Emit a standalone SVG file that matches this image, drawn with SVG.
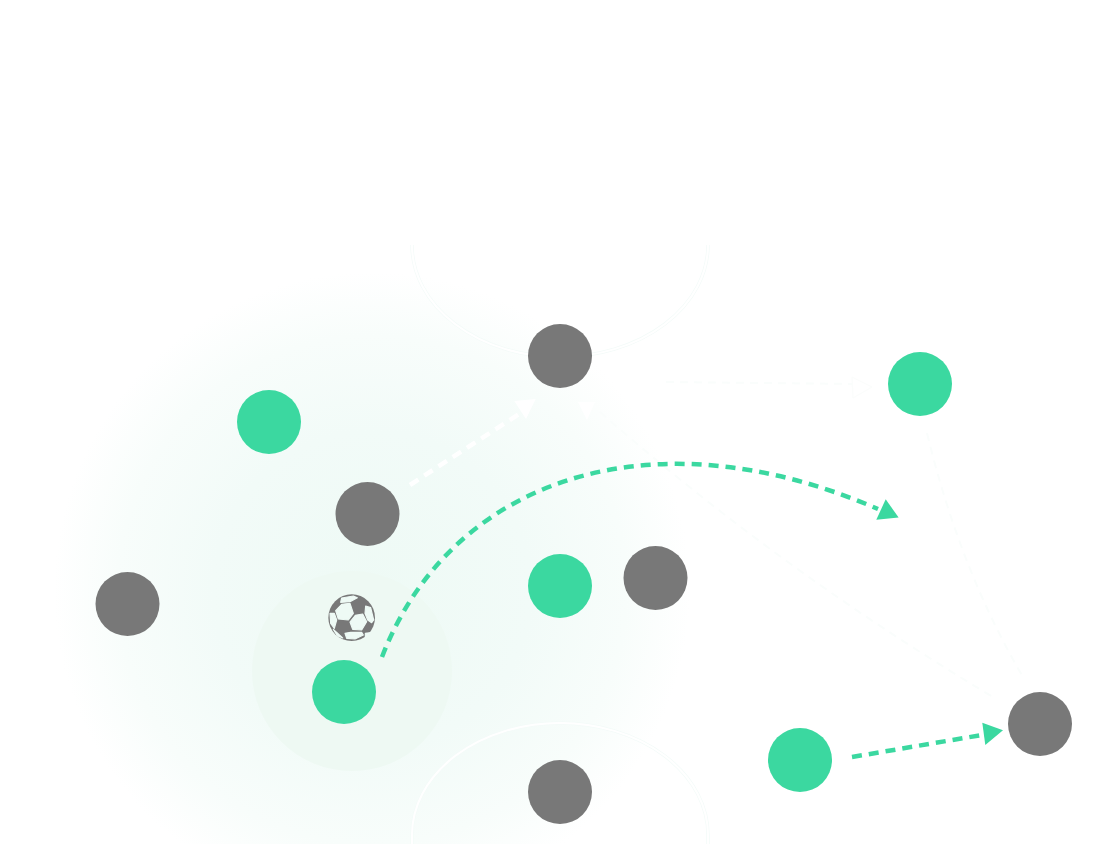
<svg xmlns="http://www.w3.org/2000/svg" width="1120" height="844" viewBox="0 0 1120 844">
<defs>
<radialGradient id="glow" gradientUnits="userSpaceOnUse" cx="372" cy="590" r="318">
<stop offset="0" stop-color="#eefaf5"/>
<stop offset="0.5" stop-color="#f2fbf8"/>
<stop offset="0.8" stop-color="#f8fdfb"/>
<stop offset="1" stop-color="#ffffff"/>
</radialGradient>
</defs>
<style>
.g{fill:#3bd8a0}.k{fill:#787878}
.dash{fill:none;stroke-width:4.5;stroke-dasharray:10 7}
.gs{stroke:#3bd8a0}.ws{stroke:#fff}
.faint{fill:none;stroke:#fafdfc;stroke-width:2;stroke-dasharray:8 6}
.arcw{fill:none;stroke:#fff;stroke-width:2}
.arcf{fill:none;stroke:#f4fbf9;stroke-width:3.5}
.panel{fill:#eefaf5;stroke:#eefaf5;stroke-width:3.5;stroke-linejoin:round}
</style>
<rect width="1120" height="844" fill="#fff"/>
<rect x="40" y="265" width="660" height="579" fill="url(#glow)"/>
<circle cx="352" cy="671" r="100" fill="#eef9f3"/>
<g id="field">
<path class="arcf" d="M412 245A148 112 0 0 0 708 245"/>
<path class="arcw" d="M412 245A148 112 0 0 0 708 245"/>
<path class="arcf" d="M412 844V835A148 112 0 0 1 708 835V844"/>
<path class="arcw" d="M412 844V835A148 112 0 0 1 708 835V844"/>
</g>
<g id="connectors">
<path class="faint" d="M666 382L856 384"/>
<polygon points="852,377 872,387 853,398" fill="#fff" stroke="#fbfdfc"/>
<path class="faint" d="M600 412Q780 570 993 697"/>
<polygon points="578,402 595,402 587,420" fill="#fff"/>
<path class="faint" d="M927 433Q960 570 1023 677"/>
<path class="dash ws" d="M410 485L522 412"/>
<polygon points="514.3,401 535.7,399 526,419" fill="#fff"/>
<path class="dash gs" d="M382 657C450 480 650 410 878 509"/>
<polygon class="g" points="885.7,499.3 898.6,517.5 876.3,519.7"/>
<path class="dash gs" d="M852 757L982 735"/>
<polygon class="g" points="982.3,722.7 1003,730.3 985.3,745"/>
</g>
<g id="player-g1"><circle class="g" cx="269" cy="422" r="32"/></g>
<g id="player-g2"><circle class="g" cx="344" cy="692" r="32"/></g>
<g id="player-g3"><circle class="g" cx="560" cy="586" r="32"/></g>
<g id="player-g4"><circle class="g" cx="920" cy="384" r="32"/></g>
<g id="player-g5"><circle class="g" cx="800" cy="760" r="32"/></g>
<g id="player-k1"><circle class="k" cx="560" cy="356" r="32"/></g>
<g id="player-k2"><circle class="k" cx="367.5" cy="514" r="32"/></g>
<g id="player-k3"><circle class="k" cx="127.5" cy="604" r="32"/></g>
<g id="player-k4"><circle class="k" cx="655.5" cy="578" r="32"/></g>
<g id="player-k5"><circle class="k" cx="560" cy="792" r="32"/></g>
<g id="player-k6"><circle class="k" cx="1040" cy="724" r="32"/></g>
<g id="ball" transform="translate(300 570) scale(.33333)">
<circle class="k" cx="155" cy="143" r="70"/>
<polygon class="panel" points="125,103 150,100 160,130 145,150 115,147 107,122"/>
<polygon class="panel" points="166,136 188,132 200,155 185,180 158,178 150,156"/>
<polygon class="panel" points="197,108 212,113 221,150 215,158 203,150 195,130"/>
<polygon class="panel" points="135,190 152,187 185,187 190,195 165,207 140,205"/>
<polygon class="panel" points="125,84 160,78 172,83 150,95 122,97"/>
<polygon class="panel" points="90,130 103,130 110,150 103,175 92,160"/>
<polygon class="panel" points="100,178 115,192 128,204 112,197"/>
<polygon class="panel" points="196,190 212,188 196,203"/>
</g>
</svg>
